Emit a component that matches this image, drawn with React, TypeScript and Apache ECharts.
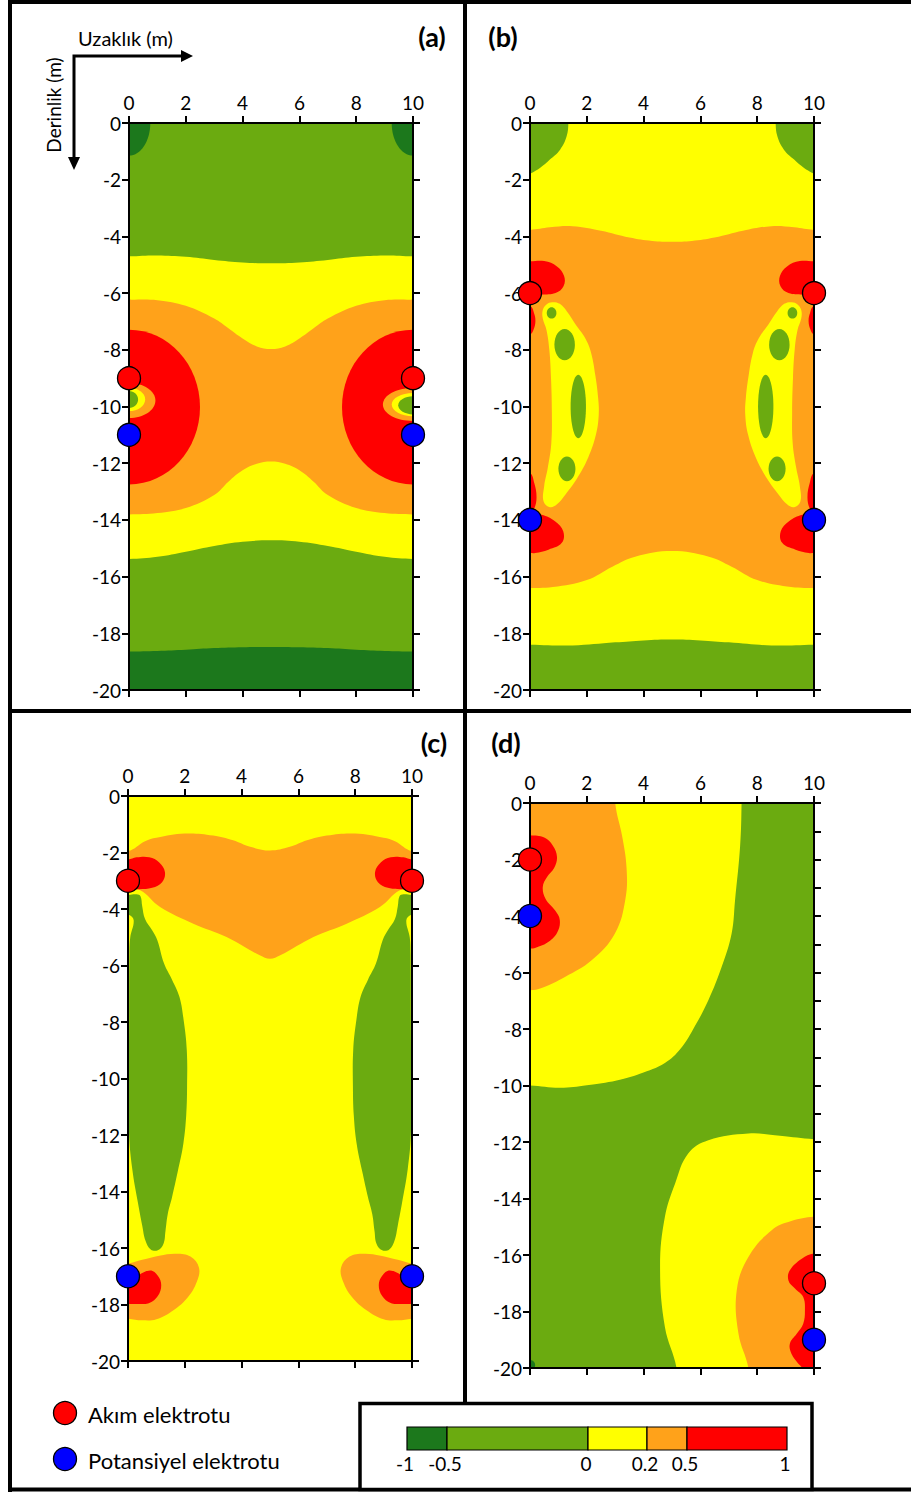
import React, { useEffect, useRef } from "react";
import * as echarts from "echarts";

// ---------- colours of the five sensitivity classes ----------
const CLASS_COLORS: Record<string, string> = {
  dg: "#1c781c", // -1 .. -0.5
  g: "#6bab10", // -0.5 .. 0
  y: "#ffff00", // 0 .. 0.2
  o: "#ffa21a", // 0.2 .. 0.5
  r: "#ff0000", // 0.5 .. 1
};
const colorbarLabels = ["-1", "-0.5", "0", "0.2", "0.5", "1"];
const colorbarClasses = ["dg", "g", "y", "o", "r"];

const xTickValues = [0, 2, 4, 6, 8, 10];
const panelLabels = ["(a)", "(b)", "(c)", "(d)"];
const legendLabels = ["Akım elektrotu", "Potansiyel elektrotu"];

// ---------- electrodes (x, depth) ----------
const aCurrent = [[0, -9], [10, -9]];
const aPotential = [[0, -11], [10, -11]];
const bCurrent = [[0, -6], [10, -6]];
const bPotential = [[0, -14], [10, -14]];
const cCurrent = [[0, -3], [10, -3]];
const cPotential = [[0, -17], [10, -17]];
const dCurrent = [[0, -2], [10, -17]];
const dPotential = [[0, -4], [10, -19]];

// ---------- contour regions (data units) ----------
const BASE = [[-1, 1], [11, 1], [11, -21], [-1, -21]];
const mirror = (p: number[][]) => p.map(([x, y]) => [10 - x, y]);

// panel (a)
const aDarkCorners = [[0, 0, 0.75, 1.15], [10, 0, 0.75, 1.15]];
const aYellowBand = [[-1, -4.7], [0, -4.7], [1, -4.67], [2, -4.72], [3, -4.83], [4, -4.92], [5, -4.95], [6, -4.92], [7, -4.83], [8, -4.72], [9, -4.67], [10, -4.7], [11, -4.7],
  [11, -15.38], [10, -15.38], [9, -15.3], [8, -15.12], [7, -14.92], [6, -14.77], [5, -14.72], [4, -14.77], [3, -14.92], [2, -15.12], [1, -15.3], [0, -15.38], [-1, -15.38]];
const aOrangeBand = [[-1, -6.23], [0, -6.23], [1, -6.25], [2, -6.45], [3, -6.9], [3.5, -7.24], [4, -7.6], [4.5, -7.88], [5, -7.97], [5.5, -7.88], [6, -7.6], [6.5, -7.24], [7, -6.9], [8, -6.45], [9, -6.25], [10, -6.23], [11, -6.23],
  [11, -13.81], [10, -13.81], [9, -13.76], [8, -13.58], [7, -13.12], [6.5, -12.65], [6, -12.25], [5.5, -12.02], [5, -11.94], [4.5, -12.02], [4, -12.25], [3.5, -12.65], [3, -13.12], [2, -13.58], [1, -13.76], [0, -13.81], [-1, -13.81]];
const aRedLobes = [[0, -10.02, 2.5, 2.73], [10, -10.02, 2.5, 2.73]];
const aBlobLeft = [["o", 0, -9.79, 0.93, 0.62], ["y", 0, -9.75, 0.57, 0.41], ["g", 0, -9.75, 0.32, 0.3]];
const aBlobRight = [["o", 10, -9.93, 1.06, 0.58], ["y", 10, -9.93, 0.75, 0.41], ["g", 10, -9.96, 0.52, 0.32]];
const aDarkBottom = [[-1, -18.64], [0, -18.64], [1, -18.62], [2, -18.58], [3, -18.52], [4, -18.49], [5, -18.48], [6, -18.49], [7, -18.52], [8, -18.58], [9, -18.62], [10, -18.64], [11, -18.64], [11, -21], [-1, -21]];

// panel (b)
const bGreenTopLeft = [[-1, 1], [1.35, 1], [1.35, 0], [1.29, -0.47], [1.06, -0.94], [0.7, -1.29], [0.35, -1.59], [0.06, -1.76], [0, -1.77], [-1, -1.77]];
const bOrange = [[-1, -3.77], [0, -3.77], [0.7, -3.68], [1.5, -3.64], [2.5, -3.8], [3.5, -4.04], [4.3, -4.16], [5, -4.19], [5.7, -4.16], [6.5, -4.04], [7.5, -3.8], [8.5, -3.64], [9.3, -3.68], [10, -3.77], [11, -3.77],
  [11, -16.4], [10, -16.4], [9.2, -16.37], [8, -16.12], [7.1, -15.65], [6.3, -15.3], [5, -15.1], [3.7, -15.3], [2.9, -15.65], [2, -16.12], [0.8, -16.37], [0, -16.4], [-1, -16.4]];
const bGreenBottom = [[-1, -18.4], [0, -18.4], [1.5, -18.43], [3, -18.32], [4, -18.25], [5, -18.22], [6, -18.25], [7, -18.32], [8.5, -18.43], [10, -18.4], [11, -18.4], [11, -21], [-1, -21]];
const bRedUpperLeft = [[-0.5, -4.88], [0, -4.88], [0.5, -4.87], [0.95, -5.06], [1.2, -5.4], [1.18, -5.76], [0.9, -6.0], [0.4, -6.06], [0, -6.1], [-0.5, -6.1]];
const bRedStripUpperLeft = [[-0.4, -6.45], [0, -6.45], [0.14, -6.7], [0.19, -7.0], [0.12, -7.3], [0, -7.45], [-0.4, -7.45]];
const bRedLowerLeft = [[-0.5, -13.8], [0, -13.8], [0.41, -13.82], [0.88, -14.05], [1.17, -14.4], [1.12, -14.81], [0.65, -15.05], [0.18, -15.17], [0, -15.17], [-0.5, -15.17]];
const bRedStripLowerLeft = [[-0.4, -12.35], [0, -12.35], [0.15, -12.7], [0.23, -13.2], [0.15, -13.6], [0, -13.76], [-0.4, -13.76]];
const bYellowArcLeft = [[0.45, -6.6], [0.58, -6.4], [0.78, -6.32], [1.05, -6.38], [1.3, -6.65], [1.6, -7.1], [1.95, -7.6], [2.15, -8.1], [2.3, -8.9], [2.4, -9.7], [2.42, -10.3], [2.32, -11.0], [2.05, -11.8], [1.65, -12.55], [1.25, -13.1], [0.95, -13.45], [0.7, -13.55], [0.48, -13.35], [0.5, -12.8], [0.62, -12.2], [0.75, -11.3], [0.77, -10.2], [0.74, -9.0], [0.68, -8.0], [0.58, -7.3], [0.45, -6.9]];
const bGreenSpotsLeft = [[0.76, -6.7, 0.17, 0.2], [1.22, -7.82, 0.36, 0.55], [1.7, -10.0, 0.27, 1.12], [1.3, -12.2, 0.3, 0.44]];

// panel (c)
const cOrange = [[-1, -1.95], [0, -1.95], [0.6, -1.6], [1, -1.48], [2, -1.33], [3, -1.4], [3.7, -1.57], [4.3, -1.8], [5, -1.93], [5.7, -1.8], [6.3, -1.57], [7, -1.4], [8, -1.33], [9, -1.48], [9.4, -1.6], [10, -1.95], [11, -1.95],
  [11, -3.3], [10, -3.33], [9.57, -3.34], [8.87, -3.93], [7.7, -4.52], [6.53, -4.99], [5.36, -5.64], [5, -5.76], [4.64, -5.64], [3.47, -4.99], [2.3, -4.52], [1.13, -3.93], [0.43, -3.34], [0, -3.33], [-1, -3.3]];
const cRedLeft = [[-0.5, -2.25], [0, -2.25], [0.3, -2.17], [0.75, -2.17], [1.1, -2.35], [1.3, -2.69], [1.2, -3.05], [0.85, -3.25], [0.4, -3.3], [0, -3.28], [-0.5, -3.28]];
const cGreenLeft = [[-0.5, -3.5], [0.02, -3.5], [0.3, -3.48], [0.44, -3.55], [0.5, -3.9], [0.6, -4.35], [0.85, -4.75], [1.03, -5.1], [1.27, -5.93], [1.55, -6.5], [1.81, -7.11], [1.96, -7.94], [2.07, -9.0], [2.08, -10.3], [2.05, -11.3], [1.95, -12.3], [1.75, -13.3], [1.55, -14.2], [1.4, -14.8], [1.32, -15.4], [1.25, -15.85], [1.05, -16.08], [0.8, -16.05], [0.62, -15.75], [0.5, -15.2], [0.35, -14.4], [0.15, -13.2], [0.04, -12.0], [0.03, -10.5], [0.04, -8.0], [0.05, -5.6], [0.08, -5.0], [0.2, -4.4], [0.03, -4.2], [-0.5, -4.0]];
const cOrangeLowLeft = [[-0.5, -16.55], [0, -16.55], [0.5, -16.42], [1.1, -16.27], [1.7, -16.2], [2.2, -16.3], [2.5, -16.7], [2.42, -17.2], [2.1, -17.75], [1.6, -18.2], [1.0, -18.52], [0.5, -18.56], [0, -18.5], [-0.5, -18.5]];
const cRedLowLeft = [[-0.5, -17.2], [0, -17.2], [0.3, -17.0], [0.78, -16.8], [1.05, -16.98], [1.17, -17.32], [1.05, -17.7], [0.75, -17.95], [0.4, -17.98], [0, -17.98], [-0.5, -17.98]];

// panel (d)
const dYellowUpper = [[-1, 1], [7.45, 1], [7.45, 0], [7.4, -1.5], [7.22, -3.44], [7.1, -4.62], [6.75, -5.8], [6.28, -6.98], [5.75, -8.0], [5.3, -8.7], [4.75, -9.2], [3.87, -9.58], [3.05, -9.82], [2.0, -9.99], [1.06, -10.08], [0, -10.0], [-1, -10.0]];
const dOrangeUpper = [[-1, 1], [3.0, 1], [3.0, 0], [3.25, -1.2], [3.4, -2.3], [3.36, -3.4], [2.99, -4.62], [2.17, -5.57], [1.23, -6.16], [0.41, -6.55], [0, -6.63], [-1, -6.63]];
const dRedUpper = [[-0.5, -1.14], [0, -1.14], [0.5, -1.22], [0.8, -1.5], [0.95, -1.9], [0.85, -2.3], [0.6, -2.62], [0.45, -2.97], [0.55, -3.4], [0.88, -3.8], [1.05, -4.15], [0.95, -4.6], [0.6, -4.95], [0.2, -5.12], [0, -5.15], [-0.5, -5.15]];
const dYellowLower = [[11, -11.9], [10, -11.9], [8.8, -11.78], [7.69, -11.7], [6.28, -11.94], [5.57, -12.41], [5.11, -13.47], [4.75, -14.65], [4.58, -16.42], [4.75, -18.55], [5.16, -20], [5.2, -21], [11, -21]];
const dOrangeLower = [[11, -14.65], [10, -14.65], [9.2, -14.8], [8.51, -15.12], [7.69, -16.07], [7.28, -17.25], [7.34, -18.78], [7.69, -20], [7.75, -21], [11, -21]];
const dRedLower = [[11, -15.95], [10, -15.95], [9.57, -16.13], [9.15, -16.54], [9.1, -16.9], [9.33, -17.19], [9.62, -17.49], [9.68, -17.96], [9.62, -18.43], [9.39, -18.79], [9.15, -19.14], [9.21, -19.5], [9.45, -19.85], [9.57, -20], [9.6, -21], [11, -21]];
const dDarkDot = [0, -19.9, 0.18, 0.18];

type Layer = { c: string; p?: number[][]; e?: number[]; s?: number };
const poly = (c: string, p: number[][], s = 0.4): Layer => ({ c, p, s });
const ell = (c: string, e: number[]): Layer => ({ c, e });

const layersA: Layer[] = [
  poly("g", BASE, 0),
  ...aDarkCorners.map((e) => ell("dg", e)),
  poly("y", aYellowBand),
  poly("o", aOrangeBand),
  ...aRedLobes.map((e) => ell("r", e)),
  ...aBlobLeft.map((b) => ell(b[0] as string, b.slice(1) as number[])),
  ...aBlobRight.map((b) => ell(b[0] as string, b.slice(1) as number[])),
  poly("dg", aDarkBottom),
];
const layersB: Layer[] = [
  poly("y", BASE, 0),
  poly("g", bGreenTopLeft),
  poly("g", mirror(bGreenTopLeft)),
  poly("o", bOrange),
  poly("g", bGreenBottom),
  ...[bRedUpperLeft, bRedStripUpperLeft, bRedLowerLeft, bRedStripLowerLeft].flatMap((p) => [poly("r", p), poly("r", mirror(p))]),
  poly("y", bYellowArcLeft),
  poly("y", mirror(bYellowArcLeft)),
  ...bGreenSpotsLeft.flatMap((e) => [ell("g", e), ell("g", [10 - e[0], e[1], e[2], e[3]])]),
];
const layersC: Layer[] = [
  poly("y", BASE, 0),
  poly("o", cOrange),
  poly("r", cRedLeft),
  poly("r", mirror(cRedLeft)),
  poly("g", cGreenLeft),
  poly("g", mirror(cGreenLeft)),
  poly("o", cOrangeLowLeft),
  poly("o", mirror(cOrangeLowLeft)),
  poly("r", cRedLowLeft),
  poly("r", mirror(cRedLowLeft)),
];
const layersD: Layer[] = [
  poly("g", BASE, 0),
  poly("y", dYellowUpper),
  poly("o", dOrangeUpper),
  poly("r", dRedUpper),
  poly("y", dYellowLower),
  poly("o", dOrangeLower),
  poly("r", dRedLower),
  ell("dg", dDarkDot),
];

const panels = [
  { layers: layersA, cur: aCurrent, pot: aPotential, grid: { left: 129, top: 123, width: 284, height: 567 }, rightInterval: 2 },
  { layers: layersB, cur: bCurrent, pot: bPotential, grid: { left: 530, top: 123, width: 284, height: 567 }, rightInterval: 2 },
  { layers: layersC, cur: cCurrent, pot: cPotential, grid: { left: 128, top: 796, width: 284, height: 565 }, rightInterval: 2 },
  { layers: layersD, cur: dCurrent, pot: dPotential, grid: { left: 530, top: 803, width: 284, height: 565 }, rightInterval: 1 },
];

const FONT = "Lato, 'Noto Sans', sans-serif";
const axisLine = { show: true, onZero: false, lineStyle: { color: "#000", width: 2 } };
const axisTick = { show: true, length: 7, lineStyle: { color: "#000", width: 2 } };
const axisLabel = { color: "#000", fontSize: 19, fontFamily: FONT };

function buildOption() {
  const xAxis: any[] = [];
  const yAxis: any[] = [];
  const series: any[] = [];
  panels.forEach((pn, i) => {
    xAxis.push({ gridIndex: i, type: "value", min: xTickValues[0], max: xTickValues[xTickValues.length - 1], interval: 2, position: "top", axisLine, axisTick, splitLine: { show: false }, axisLabel: { ...axisLabel, margin: 11 }, z: 5 });
    xAxis.push({ gridIndex: i, type: "value", min: 0, max: 10, interval: 2, position: "bottom", axisLine, axisTick, splitLine: { show: false }, axisLabel: { show: false }, z: 5 });
    yAxis.push({ gridIndex: i, type: "value", min: -20, max: 0, interval: 2, position: "left", axisLine, axisTick, splitLine: { show: false }, axisLabel: { ...axisLabel, margin: 8 }, z: 5 });
    yAxis.push({ gridIndex: i, type: "value", min: -20, max: 0, interval: pn.rightInterval, position: "right", axisLine, axisTick, splitLine: { show: false }, axisLabel: { show: false }, z: 5 });
    const layers = pn.layers;
    series.push({
      type: "custom",
      xAxisIndex: i * 2,
      yAxisIndex: i * 2,
      clip: true,
      silent: true,
      z: 2,
      encode: { x: 0, y: 1 },
      data: layers.map((_, k) => [5, -10, k]),
      renderItem: (params: any, api: any) => {
        const L = layers[params.dataIndex];
        const fill = CLASS_COLORS[L.c];
        if (L.e) {
          const [cx, cy, rx, ry] = L.e;
          const c = api.coord([cx, cy]);
          const sz = api.size([rx, ry]);
          return { type: "ellipse", shape: { cx: c[0], cy: c[1], rx: sz[0], ry: sz[1] }, style: { fill } };
        }
        const pts = (L.p as number[][]).map((pt) => api.coord(pt));
        return { type: "polygon", shape: { points: pts, smooth: L.s }, style: { fill } };
      },
    });
    series.push({ type: "scatter", xAxisIndex: i * 2, yAxisIndex: i * 2, data: pn.cur, symbolSize: 23, clip: false, silent: true, z: 10, itemStyle: { color: "#ff0000", borderColor: "#000", borderWidth: 1.3, opacity: 1 } });
    series.push({ type: "scatter", xAxisIndex: i * 2, yAxisIndex: i * 2, data: pn.pot, symbolSize: 23, clip: false, silent: true, z: 10, itemStyle: { color: "#0000ff", borderColor: "#000", borderWidth: 1.3, opacity: 1 } });
  });

  // ---- layout graphics: frames, titles, arrows, legends ----
  const stroke = "#000";
  const g: any[] = [];
  g.push({ type: "line", shape: { x1: 10, y1: 0, x2: 10, y2: 1492 }, style: { stroke, lineWidth: 4 } });
  g.push({ type: "line", shape: { x1: 8, y1: 2, x2: 911, y2: 2 }, style: { stroke, lineWidth: 4 } });
  g.push({ type: "line", shape: { x1: 8, y1: 1489.5, x2: 911, y2: 1489.5 }, style: { stroke, lineWidth: 4 } });
  g.push({ type: "line", shape: { x1: 8, y1: 711, x2: 911, y2: 711 }, style: { stroke, lineWidth: 4 } });
  g.push({ type: "line", shape: { x1: 465, y1: 0, x2: 465, y2: 1403 }, style: { stroke, lineWidth: 4 } });
  g.push({ type: "rect", shape: { x: 360, y: 1403.5, width: 452, height: 86 }, style: { fill: "#fff", stroke, lineWidth: 3.5 } });

  const labelPos = [[432, 36], [503, 36], [434, 742], [506, 742]];
  panelLabels.forEach((t, i) =>
    g.push({ type: "text", x: labelPos[i][0], y: labelPos[i][1], style: { text: t, fill: "#000", font: `bold 27px ${FONT}`, textAlign: "center", textVerticalAlign: "middle", align: "center", verticalAlign: "middle" } })
  );

  // axis direction arrows
  g.push({ type: "polyline", shape: { points: [[184, 56], [74, 56], [74, 160]] }, style: { stroke, lineWidth: 3, fill: "none" } });
  g.push({ type: "polygon", shape: { points: [[181, 50], [193, 56], [181, 62]] }, style: { fill: stroke } });
  g.push({ type: "polygon", shape: { points: [[68, 157], [74, 170], [80, 157]] }, style: { fill: stroke } });
  g.push({ type: "text", x: 78, y: 38, style: { text: "Uzaklık (m)", fill: "#000", font: `20px ${FONT}`, textAlign: "left", textVerticalAlign: "middle", align: "left", verticalAlign: "middle" } });
  g.push({ type: "text", x: 53, y: 105, rotation: Math.PI / 2, style: { text: "Derinlik (m)", fill: "#000", font: `19px ${FONT}`, textAlign: "center", textVerticalAlign: "middle", align: "center", verticalAlign: "middle" } });

  // electrode legend
  const legendColors = ["#ff0000", "#0000ff"];
  legendLabels.forEach((t, i) => {
    const cy = 1413 + i * 46;
    g.push({ type: "circle", shape: { cx: 65, cy, r: 11.5 }, style: { fill: legendColors[i], stroke, lineWidth: 1.3 } });
    g.push({ type: "text", x: 88, y: cy + 1, style: { text: t, fill: "#000", font: `22px ${FONT}`, textAlign: "left", textVerticalAlign: "middle", align: "left", verticalAlign: "middle" } });
  });

  // colour bar
  const cbEdges = [407, 447, 588, 647, 687, 787];
  colorbarClasses.forEach((c, i) => {
    g.push({ type: "rect", shape: { x: cbEdges[i], y: 1427, width: cbEdges[i + 1] - cbEdges[i], height: 23 }, style: { fill: CLASS_COLORS[c], stroke, lineWidth: 1.2 } });
  });
  colorbarLabels.forEach((t, i) => {
    g.push({ type: "text", x: cbEdges[i] - 2, y: 1463, style: { text: t, fill: "#000", font: `19px ${FONT}`, textAlign: "center", textVerticalAlign: "middle", align: "center", verticalAlign: "middle" } });
  });

  return {
    animation: false,
    backgroundColor: "#fff",
    textStyle: { fontFamily: FONT },
    grid: panels.map((p) => ({ ...p.grid, containLabel: false })),
    xAxis,
    yAxis,
    series,
    graphic: { elements: g },
  };
}

export default function App() {
  const ref = useRef<HTMLDivElement>(null);
  useEffect(() => {
    if (!ref.current) return;
    const chart = echarts.init(ref.current, null, { renderer: "svg" });
    chart.setOption(buildOption() as any);
    return () => chart.dispose();
  }, []);
  return <div ref={ref} style={{ position: "absolute", left: 0, top: 0, width: 911, height: 1492, background: "#fff" }} />;
}
